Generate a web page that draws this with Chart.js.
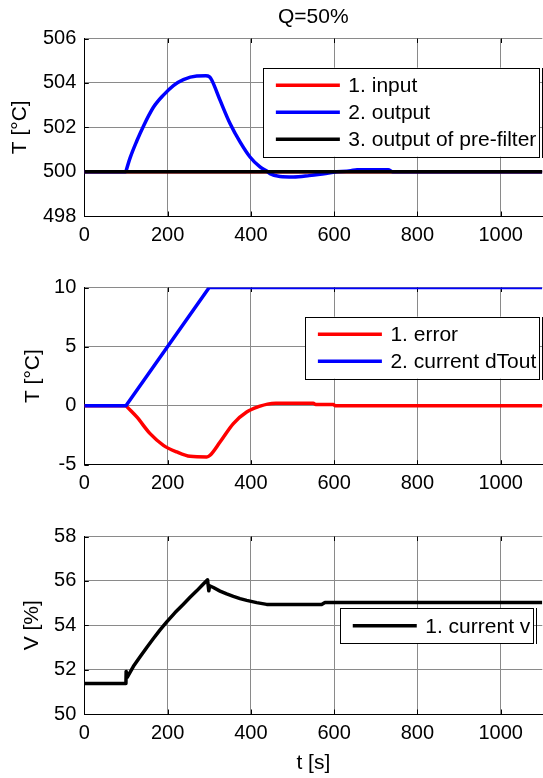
<!DOCTYPE html>
<html>
<head>
<meta charset="utf-8">
<script src="https://cdn.jsdelivr.net/npm/chart.js@4.4.1/dist/chart.umd.min.js"></script>
<style>
  html, body { margin: 0; padding: 0; background: #fff; overflow: hidden; }
  .plot { position: absolute; left: 0; width: 543px; }
</style>
</head>
<body>
<div class="plot" style="top:0;height:249px"><canvas id="c1"></canvas></div>
<div class="plot" style="top:249px;height:249px"><canvas id="c2"></canvas></div>
<div class="plot" style="top:498px;height:280px"><canvas id="c3"></canvas></div>
<script>
// shared time axis
const xTicks = [0, 200, 400, 600, 800, 1000];

// plot 1 - temperatures
const tempTicks = [498, 500, 502, 504, 506];
const inputTime = [0, 1100];
const inputTemp = [500, 500];
const outputTime = [0, 100, 101, 110, 126, 142, 166, 190, 214, 238, 270, 292, 300, 306, 326, 350, 374, 398, 422, 438, 446, 470, 502, 540, 566, 598, 640, 655, 730, 740, 1100];
const outputTemp = [500, 500, 500.07, 500.62, 501.38, 502.05, 502.9, 503.45, 503.88, 504.15, 504.31, 504.32, 504.28, 504.13, 503.22, 502.17, 501.34, 500.66, 500.21, 500.03, 499.91, 499.78, 499.76, 499.82, 499.88, 499.97, 500.04, 500.09, 500.09, 500, 500];
const prefilterTime = [0, 1100];
const prefilterTemp = [500, 500];

// plot 2 - error and dTout
const diffTicks = [-5, 0, 5, 10];
const errorTime = [0, 100, 101, 126, 158, 190, 222, 254, 294, 302, 326, 358, 390, 422, 440, 460, 550, 556, 598, 602, 1100];
const errorVal = [0, 0, -0.04, -0.96, -2.37, -3.36, -3.92, -4.29, -4.34, -4.2, -3.08, -1.52, -0.54, -0.05, 0.13, 0.2, 0.2, 0.1, 0.1, 0, 0];
const dToutTime = [0, 100, 300, 1100];
const dToutVal = [0, 0, 10, 10];

// plot 3 - valve
const valveTicks = [50, 52, 54, 56, 58];
const valveTime = [0, 100, 100.5, 103, 118, 134, 150, 166, 182, 198, 218, 238, 254, 270, 283, 296, 299, 301, 310, 326, 342, 358, 374, 390, 414, 438, 570, 578, 1100];
const valveVal = [51.38, 51.38, 51.92, 51.65, 52.15, 52.58, 53.0, 53.4, 53.79, 54.15, 54.57, 54.95, 55.26, 55.55, 55.8, 56.05, 55.55, 55.78, 55.7, 55.54, 55.41, 55.3, 55.2, 55.12, 55.02, 54.94, 54.94, 55.03, 55.03];

const FONT = '"Liberation Sans", Arial, Helvetica, sans-serif';
const pts = (t, v) => t.map((x, i) => ({x: x, y: v[i]}));

const legendBox = {
  id: 'legendBox',
  afterDraw(chart, args, opts) {
    const ctx = chart.ctx;
    const sets = chart.data.datasets;
    ctx.save();
    ctx.font = '21px ' + FONT;
    const textW = Math.max(...sets.map(d => ctx.measureText(d.label).width));
    const w = 85 + textW + 3;
    const h = 35 + 27 * (sets.length - 1);
    const x = opts.right - w, y = opts.top;
    ctx.fillStyle = '#fff';
    ctx.fillRect(x, y, w, h);
    ctx.strokeStyle = '#000';
    ctx.lineWidth = 1;
    ctx.strokeRect(Math.round(x) + 0.5, Math.round(y) + 0.5, Math.round(w), Math.round(h));
    ctx.beginPath();
    ctx.moveTo(Math.round(x + w) + 3.5, Math.round(y));
    ctx.lineTo(Math.round(x + w) + 3.5, Math.round(y + h) + 1);
    ctx.stroke();
    sets.forEach((d, i) => {
      const ry = y + 17.5 + 27 * i;
      ctx.strokeStyle = d.borderColor;
      ctx.lineWidth = 3.5;
      ctx.beginPath();
      ctx.moveTo(x + 12.5, ry);
      ctx.lineTo(x + 76.5, ry);
      ctx.stroke();
      ctx.fillStyle = '#000';
      ctx.textBaseline = 'middle';
      ctx.fillText(d.label, x + 85, ry + 1);
    });
    ctx.restore();
  }
};

// matlab style ticks pointing into the axes
const inTicks = {
  id: 'inTicks',
  beforeDatasetsDraw(chart) {
    const {ctx, chartArea: a, scales: {x, y}} = chart;
    ctx.save();
    ctx.strokeStyle = '#000';
    ctx.lineWidth = 1;
    ctx.beginPath();
    x.ticks.forEach(t => {
      const px = Math.round(x.getPixelForValue(t.value)) + 0.5;
      ctx.moveTo(px, a.bottom); ctx.lineTo(px, a.bottom - 4.5);
      ctx.moveTo(px, a.top); ctx.lineTo(px, a.top + 4.5);
    });
    y.ticks.forEach(t => {
      const py = Math.round(y.getPixelForValue(t.value)) + 0.5;
      ctx.moveTo(a.left, py); ctx.lineTo(a.left + 4.5, py);
    });
    ctx.stroke();
    ctx.restore();
  }
};

function makePlot(id, datasets, yMin, yMax, yTicks, o) {
  const grid = {color: '#8a8a8a', borderDash: [1, 1], drawTicks: false, lineWidth: 1};
  return new Chart(document.getElementById(id), {
    type: 'line',
    data: {datasets: datasets},
    options: {
      responsive: true,
      maintainAspectRatio: false,
      animation: false,
      layout: {padding: {top: o.title ? 0 : 38.5, right: 0.7, left: 0, bottom: 0}},
      elements: {
        point: {radius: 0},
        line: {borderWidth: 3.5, tension: 0, borderJoinStyle: 'round'}
      },
      plugins: {
        legend: {display: false},
        tooltip: {enabled: false},
        title: {
          display: !!o.title, text: o.title, fullSize: false, color: '#000',
          font: {family: FONT, size: 21, weight: 'normal'},
          padding: {top: 4.9, bottom: 8.4}
        },
        legendBox: o.legend
      },
      scales: {
        x: {
          type: 'linear', min: 0, max: 1100,
          afterBuildTicks: s => { s.ticks = xTicks.map(v => ({value: v})); },
          afterFit: s => { s.height = o.xHeight; },
          grid: grid,
          border: {display: true, color: '#000', width: 1},
          ticks: {color: '#000', padding: 7, font: {family: FONT, size: 20}, callback: v => String(v)},
          title: {
            display: !!o.xTitle, text: o.xTitle, color: '#000',
            font: {family: FONT, size: 21}, padding: {top: 0, bottom: 2.4}
          }
        },
        y: {
          min: yMin, max: yMax,
          afterBuildTicks: s => { s.ticks = yTicks.map(v => ({value: v})); },
          afterFit: s => { s.width = 84.3; },
          grid: grid,
          border: {display: true, color: '#000', width: 1},
          ticks: {color: '#000', padding: 8, font: {family: FONT, size: 20}, callback: v => String(v)},
          title: {
            display: true, text: o.yTitle, color: '#000',
            font: {family: FONT, size: 21}, padding: {top: o.yPad, bottom: 0}
          }
        }
      }
    },
    plugins: [inTicks, legendBox]
  });
}

makePlot('c1', [
  {label: '1. input', data: pts(inputTime, inputTemp), borderColor: '#ff0000', order: 2},
  {label: '2. output', data: pts(outputTime, outputTemp), borderColor: '#0000ff', order: 1, cubicInterpolationMode: 'monotone'},
  {label: '3. output of pre-filter', data: pts(prefilterTime, prefilterTemp), borderColor: '#000000', order: 0}
], 498, 506, tempTicks, {title: 'Q=50%', yTitle: 'T [°C]', yPad: 7.4, xHeight: 33, legend: {right: 539.3, top: 67.7}});

makePlot('c2', [
  {label: '1. error', data: pts(errorTime, errorVal), borderColor: '#ff0000', order: 1, cubicInterpolationMode: 'monotone'},
  {label: '2. current dTout', data: pts(dToutTime, dToutVal), borderColor: '#0000ff', order: 0}
], -5, 10, diffTicks, {yTitle: 'T [°C]', yPad: 20.4, xHeight: 33.3, legend: {right: 539.3, top: 67.7}});

makePlot('c3', [
  {label: '1. current v', data: pts(valveTime, valveVal), borderColor: '#000000'}
], 50, 58, valveTicks, {yTitle: 'V [%]', yPad: 20, xHeight: 64, xTitle: 't [s]', legend: {right: 533.3, top: 110.3}});
</script>
</body>
</html>
